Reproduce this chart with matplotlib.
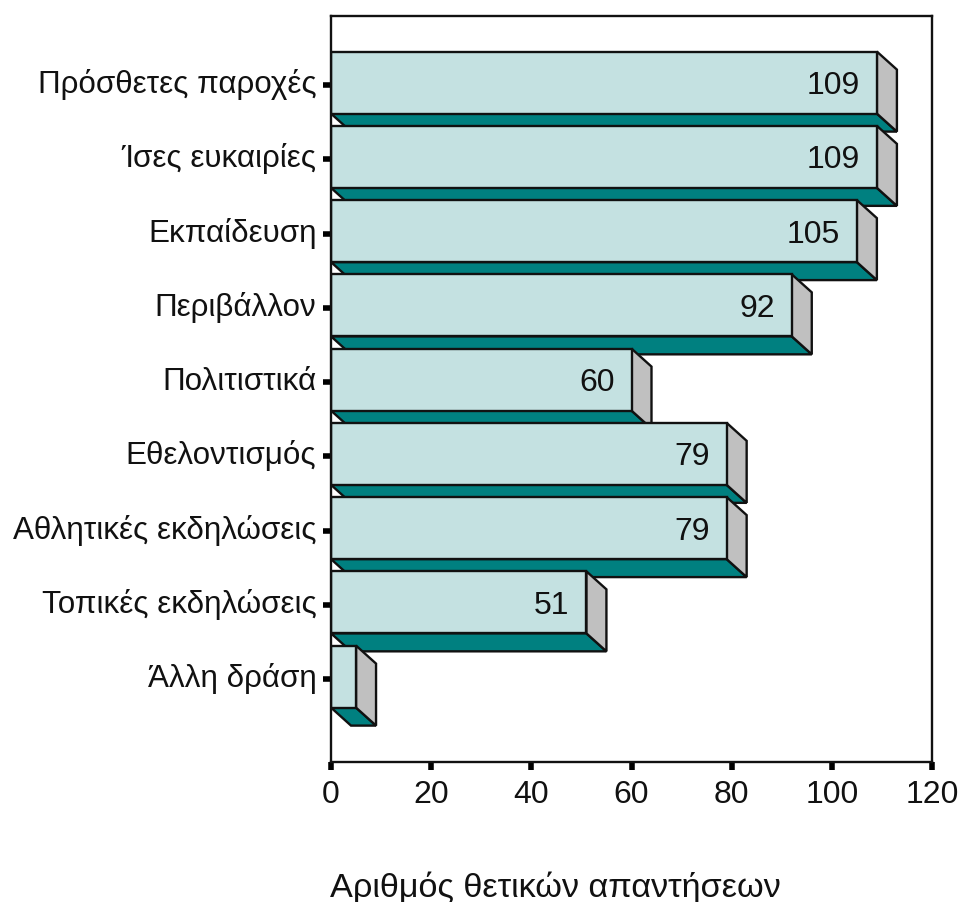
import matplotlib
matplotlib.use("Agg")
import matplotlib.pyplot as plt
from matplotlib.patches import Polygon
from matplotlib.ticker import MultipleLocator
from matplotlib.transforms import ScaledTranslation
import numpy as np

categories = ["Πρόσθετες παροχές", "Ίσες ευκαιρίες", "Εκπαίδευση", "Περιβάλλον", "Πολιτιστικά",
              "Εθελοντισμός", "Αθλητικές εκδηλώσεις", "Τοπικές εκδηλώσεις", "Άλλη δράση"]
values = [109, 109, 105, 92, 60, 79, 79, 51, 5]
labels = ["109", "109", "105", "92", "60", "79", "79", "51", ""]
xlabel = "Αριθμός θετικών απαντήσεων"

plt.rcParams['font.family'] = ['Liberation Sans', 'DejaVu Sans']
W, H = 959, 903
fig = plt.figure(figsize=(W / 100, H / 100), dpi=100)
L, R, T, B = 331, 932, 16.6, 762.6
ax = fig.add_axes([L / W, 1 - B / H, (R - L) / W, (B - T) / H])

step = 74.25            # px per row
ax.set_xlim(0, 120)
ax.set_ylim((B - 83.6) / step, (T - 83.6) / step)

FRONT, FLOOR, SIDE = "#c4e1e1", "#008080", "#c0c0c0"
lw = 1.7
dx = 20 / ((R - L) / 120)
dy = 18 / step
hh = 31 / step

for i, v in enumerate(values):
    z = 2 + i * 0.01
    top, bot = i - hh, i + hh
    ax.add_patch(Polygon([(0, bot), (v, bot), (v + dx, bot + dy), (dx, bot + dy)], closed=True,
                         fc=FLOOR, ec="#111111", lw=lw, joinstyle="miter", zorder=z))
    ax.add_patch(Polygon([(v, top), (v + dx, top + dy), (v + dx, bot + dy), (v, bot)], closed=True,
                         fc=SIDE, ec="#111111", lw=lw, joinstyle="miter", zorder=z))
    ax.barh(i, v, height=2 * hh, color=FRONT, edgecolor="#111111", linewidth=lw, zorder=z)
    if labels[i]:
        ax.text(v - 3.4, i + 0.035, labels[i], ha="right", va="center", fontsize=23, color="#111111", zorder=5)

ax.set_yticks(np.arange(len(categories)) + 2.5 / step)
ax.set_yticklabels(categories, fontsize=22.6, color="#111111")
ax.xaxis.set_major_locator(MultipleLocator(20))
ax.tick_params(axis="x", length=5.5, width=4.0, labelsize=23, pad=6.7, labelcolor="#111111")
ax.tick_params(axis="y", length=5.5, width=4.0, pad=5)
shift = ScaledTranslation(0, 3.6 / 72, fig.dpi_scale_trans)
for t in ax.get_yticklabels():
    t.set_transform(t.get_transform() + shift)
for s in ax.spines.values():
    s.set_linewidth(1.7)
    s.set_color("#111111")

fig.text(555 / W, 1 - 888 / H, xlabel, ha="center", va="center", fontsize=24.7, color="#111111")
fig.savefig("out.png", dpi=100)
